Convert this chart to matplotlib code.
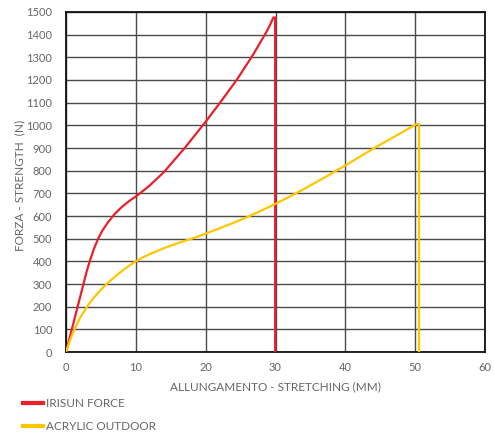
import matplotlib
matplotlib.use("Agg")
import matplotlib.pyplot as plt
from matplotlib.lines import Line2D

plt.rcParams['font.family'] = ['Lato', 'DejaVu Sans']

# Data
irisun_x = [0, 0.5, 1, 1.5, 2, 2.5, 3, 3.5, 4, 4.6, 5.2, 6.0, 7.0, 8.0, 9.0, 10.0, 11.0, 12.0, 14.0, 17.0, 20.0, 22.3, 24.5, 26.8, 28.7, 29.2, 29.7, 29.95, 29.95]
irisun_y = [0, 60, 120, 180, 240, 300, 360, 410, 455, 500, 535, 572, 610, 640, 665, 686, 710, 735, 793, 900, 1016, 1110, 1203, 1312, 1412, 1442, 1476, 1476, 0]

acrylic_x = [0, 0.5, 1, 2, 3, 4, 5, 6, 7, 8, 9, 10, 11, 12, 14, 16, 18, 20, 22, 24, 26, 28, 30, 32, 34, 36, 38, 40, 42, 44, 46, 48, 50.2, 50.55, 50.55]
acrylic_y = [0, 45, 85, 150, 200, 240, 275, 305, 332, 357, 380, 400, 417, 432, 458, 480, 500, 522, 546, 570, 596, 624, 654, 685, 718, 752, 787, 823, 860, 897, 932, 967, 1006, 1006, 0]

series_names = ["IRISUN FORCE", "ACRYLIC OUTDOOR"]
series_colors = ["#e8202a", "#ffc600"]

x_ticks = [0, 10, 20, 30, 40, 50, 60]
y_ticks = list(range(0, 1501, 100))

fig = plt.figure(figsize=(4.94, 4.36), dpi=100)
ax = fig.add_axes([66/494, 1-352/436, (485-66)/494, (352-12)/436])

ax.plot(irisun_x, irisun_y, color=series_colors[0], lw=1.6, zorder=3)
ax.plot(acrylic_x, acrylic_y, color=series_colors[1], lw=1.6, zorder=3)

ax.set_xlim(0, 60)
ax.set_ylim(0, 1500)
ax.set_xticks(x_ticks)
ax.set_yticks(y_ticks)
ax.grid(True, color='#4a4a4a', lw=1.0, zorder=1)
ax.set_axisbelow(True)
for s in ax.spines.values():
    s.set_color('#111111')
    s.set_linewidth(1.3)
ax.tick_params(axis='x', length=0, labelsize=8, colors='#666666', pad=7)
ax.tick_params(axis='y', length=0, labelsize=8, colors='#666666', pad=10)

ax.set_xlabel("ALLUNGAMENTO - STRETCHING (MM)", fontsize=8.5, color='#666666', labelpad=6)
ax.set_ylabel("FORZA - STRENGTH  (N)", fontsize=8.5, color='#666666', labelpad=0)
ax.yaxis.set_label_coords(-(66 - 25) / 419, 0.49)

handles = [Line2D([0], [0], color=c, lw=3) for c in series_colors]
fig.legend(handles, series_names, loc='upper left', bbox_to_anchor=(23/494, 1-398/436),
           frameon=False, fontsize=8.5, handlelength=1.7, handletextpad=0.25,
           labelcolor='#666666', labelspacing=1.05, borderaxespad=0, borderpad=0)

fig.savefig("out.png", dpi=100)
